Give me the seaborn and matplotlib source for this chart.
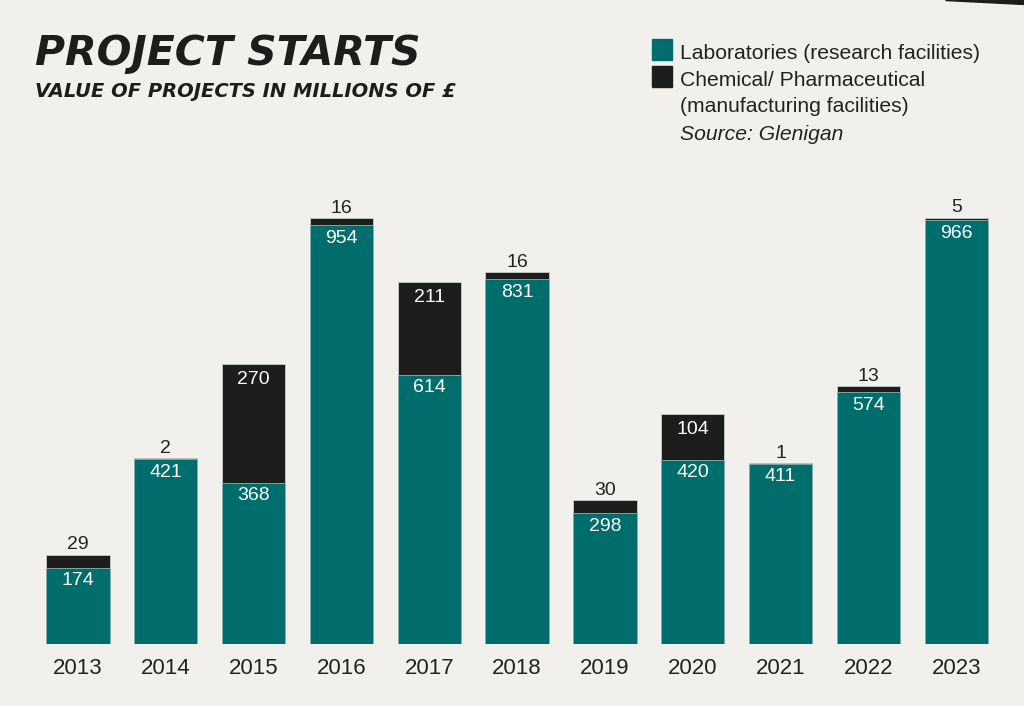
import numpy as np
import pandas as pd
import matplotlib
matplotlib.use('Agg')
import matplotlib.pyplot as plt
from matplotlib.patches import Rectangle, Polygon
import seaborn as sns

# Données (valeurs des projets, millions de £)
years = ['2013', '2014', '2015', '2016', '2017', '2018',
         '2019', '2020', '2021', '2022', '2023']
laboratories = [174, 421, 368, 954, 614, 831, 298, 420, 411, 574, 966]
chemical = [29, 2, 270, 16, 211, 16, 30, 104, 1, 13, 5]

BG = '#f1f0ec'
TEAL = '#006d6d'
BLACK = '#1d1d1b'

sns.set_style('white')
plt.rcParams['font.family'] = ['Liberation Sans', 'DejaVu Sans']

df = pd.DataFrame({'year': years, 'lab': laboratories, 'chem': chemical})
df['total'] = df['lab'] + df['chem']

fig = plt.figure(figsize=(10.24, 7.06), dpi=100, facecolor=BG)
ax = fig.add_axes([34.1 / 1024, 62 / 706, 966 / 1024, 482.6 / 706])
ax.set_facecolor(BG)

# empilement : total en noir, puis laboratoires en teal par-dessus
sns.barplot(data=df, x='year', y='total', color=BLACK, saturation=1,
            width=0.72, edgecolor='#c9ccc9', linewidth=0.6, ax=ax)
sns.barplot(data=df, x='year', y='lab', color=TEAL, saturation=1,
            width=0.72, edgecolor='#8fb3b1', linewidth=0.6, ax=ax)

ax.set_ylim(0, 1100)
ax.set_xlim(-0.5, 10.5)
sns.despine(ax=ax, left=True, bottom=True)
ax.set_yticks([])
ax.set_xlabel('')
ax.set_ylabel('')
ax.tick_params(axis='x', length=0, pad=10, labelsize=16, labelcolor='#222222')

# étiquettes de valeurs
for i, row in df.iterrows():
    ax.annotate(f"{row['lab']}", (i, row['lab']), xytext=(0, -13),
                textcoords='offset pixels', ha='center', va='center',
                color='white', fontsize=14)
    if row['chem'] > 50:
        ax.annotate(f"{row['chem']}", (i, row['total']), xytext=(0, -15),
                    textcoords='offset pixels', ha='center', va='center',
                    color='white', fontsize=14)
    else:
        ax.annotate(f"{row['chem']}", (i, row['total']), xytext=(0, 10),
                    textcoords='offset pixels', ha='center', va='center',
                    color='#222222', fontsize=14)

# titres
fig.text(35 / 1024, 1 - 65 / 706, 'PROJECT STARTS', fontsize=29.5,
         family='DejaVu Sans', fontweight='heavy', style='italic',
         color=BLACK, va='baseline')
fig.text(35 / 1024, 1 - 97 / 706, 'VALUE OF PROJECTS IN MILLIONS OF £',
         fontsize=14, family='DejaVu Sans', fontweight='bold',
         style='italic', color=BLACK, va='baseline')

# légende manuelle
W, H = 1024, 706
fig.patches.append(Rectangle((652 / W, 1 - 60 / H), 20 / W, 21 / H,
                             transform=fig.transFigure, color=TEAL))
fig.patches.append(Rectangle((652 / W, 1 - 87 / H), 20 / W, 21 / H,
                             transform=fig.transFigure, color=BLACK))
legend_lines = [
    ('Laboratories (research facilities)', 59, 'normal'),
    ('Chemical/ Pharmaceutical', 86, 'normal'),
    ('(manufacturing facilities)', 112, 'normal'),
    ('Source: Glenigan', 140, 'italic'),
]
for txt, y, st in legend_lines:
    fig.text(680 / W, 1 - y / H, txt, fontsize=15.2, style=st,
             color='#222222', va='baseline')

# coin décoratif en haut à droite
fig.patches.append(Polygon([(945 / W, 1), (1, 1), (1, 1 - 4 / H)],
                           closed=True, transform=fig.transFigure,
                           color=BLACK))

fig.savefig('out.png', dpi=100, facecolor=BG)
